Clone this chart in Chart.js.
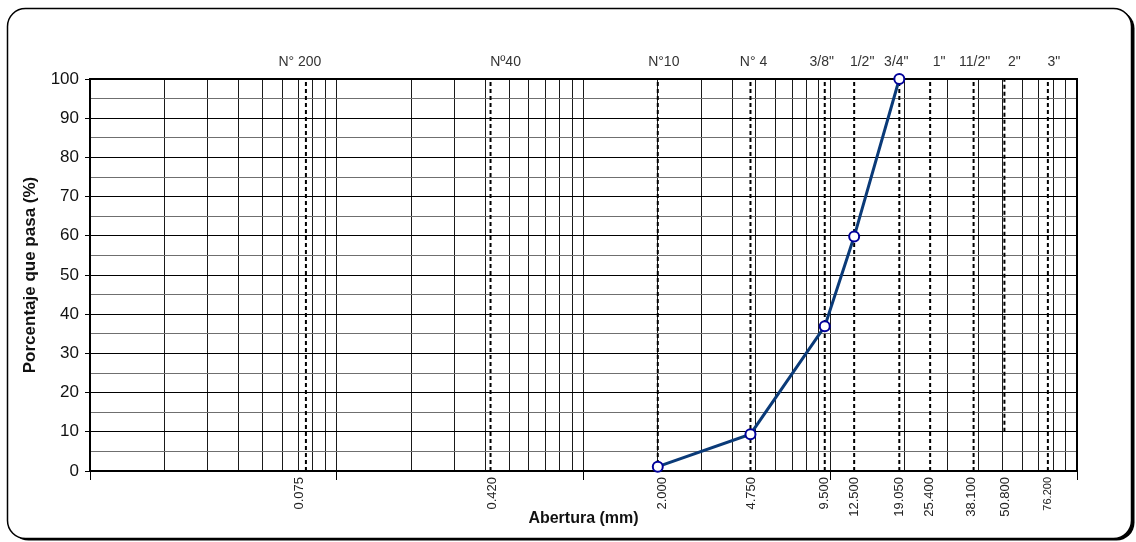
<!DOCTYPE html>
<html>
<head>
<meta charset="utf-8">
<script src="https://cdn.jsdelivr.net/npm/chart.js@4.4.1/dist/chart.umd.min.js"></script>
<style>
  html, body { margin: 0; padding: 0; background: #fff; }
  #wrap { width: 1136px; height: 542px; }
</style>
</head>
<body>
<div id="wrap"><canvas id="curva" width="1136" height="542"></canvas></div>
<script>
// Grain size curve: sieve opening (mm) vs percent passing
const aberturas = [2.0, 4.75, 9.5, 12.5, 19.05];
const porcentajePasa = [1.1, 9.4, 36.9, 59.8, 100];

// Standard sieves drawn as dashed reference lines
const tamices = [0.075, 0.42, 2.0, 4.75, 9.5, 12.5, 19.05, 25.4, 38.1, 50.8, 76.2];
const tamizNombres = ['N° 200', 'Nº40', 'N°10', 'N° 4', '3/8"', '1/2"', '3/4"', '1"', '11/2"', '2"', '3"'];
const tamizEtiquetas = ['0.075', '0.420', '2.000', '4.750', '9.500', '12.500', '19.050', '25.400', '38.100', '50.800', '76.200'];
const lineaDesde = [0, 0, 0, 0, 0, 0, 0, 0, 0, 10, 0];
const lineaHasta = [100, 100, 100, 100, 100, 100, 100, 100, 100, 100, 100];

// Axis ranges
const xMin = 0.01, xMax = 100;
const yMin = 0, yMax = 100, yPaso = 5;

// Log grid: 1..9 in every decade
const gridX = [];
for (let e = Math.log10(xMin); e < Math.log10(xMax); e++) {
  for (let m = 1; m < 10; m++) gridX.push(+(m * Math.pow(10, e)).toPrecision(3));
}
gridX.push(xMax);

const esDecada = v => Math.abs(Math.log10(v) - Math.round(Math.log10(v))) < 1e-9;

Chart.defaults.font.family = '"Liberation Sans", Arial, sans-serif';
Chart.defaults.color = '#111';

const datasets = [{
  label: 'Curva granulométrica',
  data: aberturas.map((x, i) => ({ x, y: porcentajePasa[i] })),
  borderColor: '#0a3a78',
  borderWidth: 3,
  pointRadius: 5,
  pointBorderWidth: 2,
  pointBorderColor: '#00009a',
  pointBackgroundColor: '#ffffff',
  tension: 0,
  fill: false,
  clip: false
}];
tamices.forEach((t, i) => {
  datasets.push({
    label: tamizNombres[i],
    data: [{ x: t, y: lineaDesde[i] }, { x: t, y: lineaHasta[i] }],
    borderColor: '#000',
    borderWidth: 2,
    borderDash: [4, 3],
    pointRadius: 0,
    pointHoverRadius: 0,
    fill: false
  });
});

// Rounded frame with a drop shadow behind the whole chart
const marco = {
  id: 'marco',
  beforeDraw(chart) {
    const ctx = chart.ctx;
    ctx.save();
    ctx.fillStyle = '#fff';
    ctx.fillRect(0, 0, chart.width, chart.height);
    const x = 7.5, y = 8.5, w = 1124, h = 530, r = 18;
    ctx.beginPath();
    ctx.roundRect(x + 3, y + 2, w, h, r);
    ctx.fillStyle = '#000';
    ctx.fill();
    ctx.beginPath();
    ctx.roundRect(x, y, w, h, r);
    ctx.fillStyle = '#fff';
    ctx.fill();
    ctx.lineWidth = 1.5;
    ctx.strokeStyle = '#000';
    ctx.stroke();
    ctx.restore();
  },
  beforeDatasetsDraw(chart) {
    const { ctx, chartArea: a } = chart;
    ctx.save();
    ctx.strokeStyle = '#000';
    ctx.lineWidth = 2;
    ctx.beginPath();
    ctx.moveTo(a.left, a.top);
    ctx.lineTo(a.right, a.top);
    ctx.lineTo(a.right, a.bottom);
    ctx.stroke();
    ctx.restore();
  }
};

// Sieve names above the plot and openings below it
const rotulos = {
  id: 'rotulos',
  afterDraw(chart, args, opts) {
    const { ctx, chartArea: a } = chart;
    const sx = chart.scales.x;
    ctx.save();
    ctx.fillStyle = '#333';
    ctx.font = '14px "Liberation Sans", Arial, sans-serif';
    ctx.textAlign = 'center';
    ctx.textBaseline = 'alphabetic';
    tamices.forEach((t, i) => {
      ctx.fillText(tamizNombres[i], sx.getPixelForValue(t) + opts.ajusteArriba[i], a.top - 13);
    });
    ctx.fillStyle = '#222';
    ctx.textAlign = 'right';
    ctx.textBaseline = 'middle';
    tamices.forEach((t, i) => {
      const size = i === tamices.length - 1 ? 11 : 13;
      ctx.font = size + 'px "Liberation Sans", Arial, sans-serif';
      ctx.save();
      ctx.translate(sx.getPixelForValue(t) + opts.ajusteAbajo[i], a.bottom + 6);
      ctx.rotate(-Math.PI / 2);
      ctx.fillText(tamizEtiquetas[i], 0, 0);
      ctx.restore();
    });
    ctx.restore();
  }
};

new Chart(document.getElementById('curva'), {
  type: 'line',
  data: { datasets },
  plugins: [marco, rotulos],
  options: {
    responsive: false,
    animation: false,
    events: [],
    layout: { padding: { left: 0, right: 59, top: 79, bottom: 0 } },
    plugins: {
      legend: { display: false },
      tooltip: { enabled: false },
      rotulos: {
        ajusteArriba: [-6, 15, 6, 3, -3, 8, -3, 9, 1, 10, 6],
        ajusteAbajo: [-6, 2, 5, 1, 0, 0, 0, -1, -2, 1, 0]
      }
    },
    scales: {
      x: {
        type: 'logarithmic',
        min: xMin,
        max: xMax,
        afterBuildTicks(scale) { scale.ticks = gridX.map(v => ({ value: v })); },
        afterFit(scale) { scale.height = 71; },
        ticks: { display: false, autoSkip: false },
        border: { display: true, color: '#000', width: 2 },
        grid: {
          color: '#1a1a1a',
          lineWidth: 1,
          drawTicks: true,
          tickLength: 9,
          tickColor: ctx => esDecada(ctx.tick.value) ? '#000' : 'rgba(0,0,0,0)'
        },
        title: {
          display: true,
          text: 'Abertura (mm)',
          color: '#111',
          font: { size: 16, weight: 'bold' },
          padding: { top: 0, bottom: 14 }
        }
      },
      y: {
        min: yMin,
        max: yMax,
        afterFit(scale) { scale.width = 90; },
        ticks: {
          stepSize: yPaso,
          autoSkip: false,
          padding: 6,
          color: '#111',
          font: { size: 17 },
          callback: v => (v % 10 === 0 ? String(v) : '')
        },
        border: { display: true, color: '#000', width: 2 },
        grid: {
          color: ctx => (ctx.tick.value % 10 === 0 ? '#000' : '#6f6f6f'),
          lineWidth: 1,
          tickLength: 5,
          tickColor: ctx => (ctx.tick.value % 10 === 0 ? '#000' : 'rgba(0,0,0,0)')
        },
        title: {
          display: true,
          text: 'Porcentaje que pasa (%)',
          color: '#111',
          font: { size: 17, weight: 'bold' },
          padding: { top: 20, bottom: 0 }
        }
      }
    }
  }
});
</script>
</body>
</html>
